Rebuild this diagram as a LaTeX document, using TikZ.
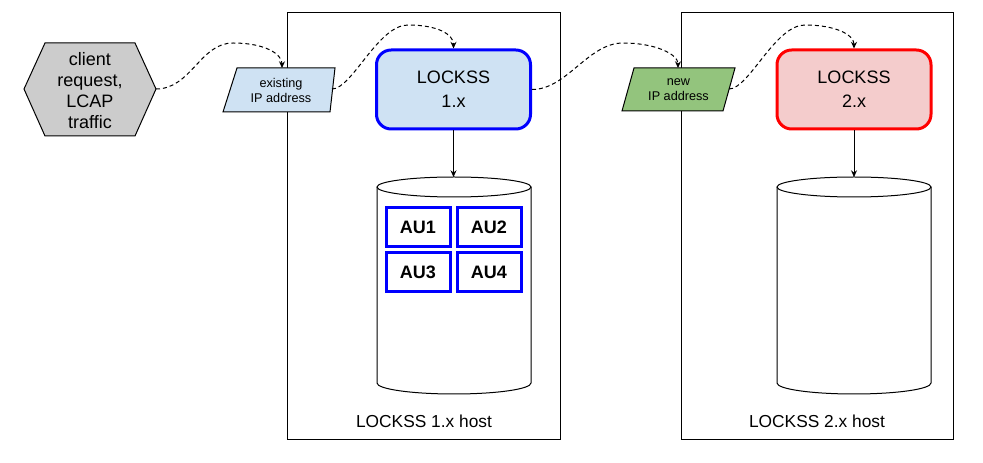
\documentclass[tikz,border=0pt]{standalone}
\usepackage{fontspec}
\setmainfont{Liberation Sans}
\usetikzlibrary{arrows.meta}
\definecolor{lblue}{HTML}{CFE2F3}
\definecolor{ipgreen}{HTML}{93C47D}
\definecolor{lred}{HTML}{F4CCCC}
\definecolor{hexgray}{HTML}{CCCCCC}
\definecolor{aublue}{HTML}{0000FF}
\definecolor{bred}{HTML}{FF0000}
\begin{document}
\begin{tikzpicture}[x=0.75pt,y=-0.75pt,
  hostbox/.style={draw, line width=0.75pt, minimum width=204.75pt, minimum height=320.25pt, inner sep=0pt},
  lockss/.style={rounded corners=11pt, line width=2.25pt, minimum width=115.5pt, minimum height=59.25pt, align=center, inner sep=0pt, font=\fontsize{13.5}{18}\selectfont},
  aubox/.style={draw=aublue, line width=2.25pt, fill=white, minimum width=48pt, minimum height=29.25pt, inner sep=0pt, font=\bfseries\fontsize{13.5}{16}\selectfont},
  conn/.style={dash pattern=on 3pt off 2.25pt, line width=0.75pt, -{Stealth[length=5pt,width=4.5pt]}},
  arr/.style={line width=0.75pt, -{Stealth[length=5pt,width=4.5pt]}},
  iptext/.style={align=center, inner sep=0pt, font=\fontsize{9.5}{11.25}\selectfont},
  para/.style={draw, line width=0.75pt},
  hostlab/.style={font=\fontsize{13}{15}\selectfont, inner sep=0pt},
  cyl/.style={draw, line width=0.75pt, fill=white}
]
\useasboundingbox (0,0) rectangle (983,463);

% host boxes
\node[hostbox] (host1) at (423.5,226.5) {};
\node[hostbox, minimum width=204pt] (host2) at (817,226.5) {};
\node[hostlab] (h1lab) at (424,421) {LOCKSS 1.x host};
\node[hostlab] (h2lab) at (817,421) {LOCKSS 2.x host};

% hexagon
\draw[fill=hexgray, line width=0.75pt] (24,89) -- (45,43) -- (135,43) -- (156,89) -- (135,136) -- (45,136) -- cycle;
\node[align=center, inner sep=0pt, font=\fontsize{13.5}{15.75}\selectfont] (hex) at (90,91) {client\\request,\\LCAP\\traffic};
\coordinate (hexE) at (156,89);

% existing IP
\draw[para, fill=lblue] (237,68) -- (335,68) -- (330,112) -- (223,112) -- cycle;
\node[iptext] (eip) at (281,90.5) {existing\\IP address};
\coordinate (eipN) at (282,68);
\coordinate (eipE) at (332,89);

% new IP
\draw[para, fill=ipgreen] (634,68) -- (735,68) -- (723,111) -- (622,111) -- cycle;
\node[iptext] (nip) at (678.5,90) {new\\IP address};
\coordinate (nipN) at (678,68);
\coordinate (nipE) at (729,89);

% LOCKSS nodes
\node[lockss, draw=aublue, fill=lblue] (l1) at (453.5,89.5) {LOCKSS\\1.x};
\node[lockss, draw=bred, fill=lred] (l2) at (854,89.5) {LOCKSS\\2.x};

% cylinders
\draw[cyl] (377,187) -- (377,383) arc[start angle=180, end angle=360, x radius=57.75pt, y radius=8.25pt] -- (531,187);
\draw[cyl] (454,187) ellipse [x radius=57.75pt, y radius=7.5pt];
\coordinate (cyl1N) at (453.5,177);
\draw[cyl] (777,187) -- (777,383) arc[start angle=180, end angle=360, x radius=57.75pt, y radius=8.25pt] -- (931,187);
\draw[cyl] (854,187) ellipse [x radius=57.75pt, y radius=7.5pt];
\coordinate (cyl2N) at (854,177);

% AUs
\node[aubox] (au1) at (418,227.5) {AU1};
\node[aubox] (au2) at (489,227.5) {AU2};
\node[aubox] (au3) at (418,272) {AU3};
\node[aubox] (au4) at (489,272) {AU4};

% vertical arrows
\draw[arr] (l1.south) -- (cyl1N);
\draw[arr] (l2.south) -- (cyl2N);

% dashed curves
\coordinate (p1) at (233,43);
\coordinate (p2) at (408,25);
\coordinate (p3) at (623,43);
\coordinate (p4) at (805,25);
\draw[conn] (hexE) .. controls +(35,0) and +(-33,0) .. (p1) .. controls +(32,0) and +(0,-14) .. (eipN);
\draw[conn] (eipE) .. controls +(20,0) and +(-30,0) .. (p2) .. controls +(30,0) and +(0,-14) .. (l1.north);
\draw[conn] (l1.east) .. controls +(35,0) and +(-35,0) .. (p3) .. controls +(32,0) and +(0,-14) .. (nipN);
\draw[conn] (nipE) .. controls +(20,0) and +(-30,0) .. (p4) .. controls +(30,0) and +(0,-14) .. (l2.north);
\end{tikzpicture}
\end{document}
